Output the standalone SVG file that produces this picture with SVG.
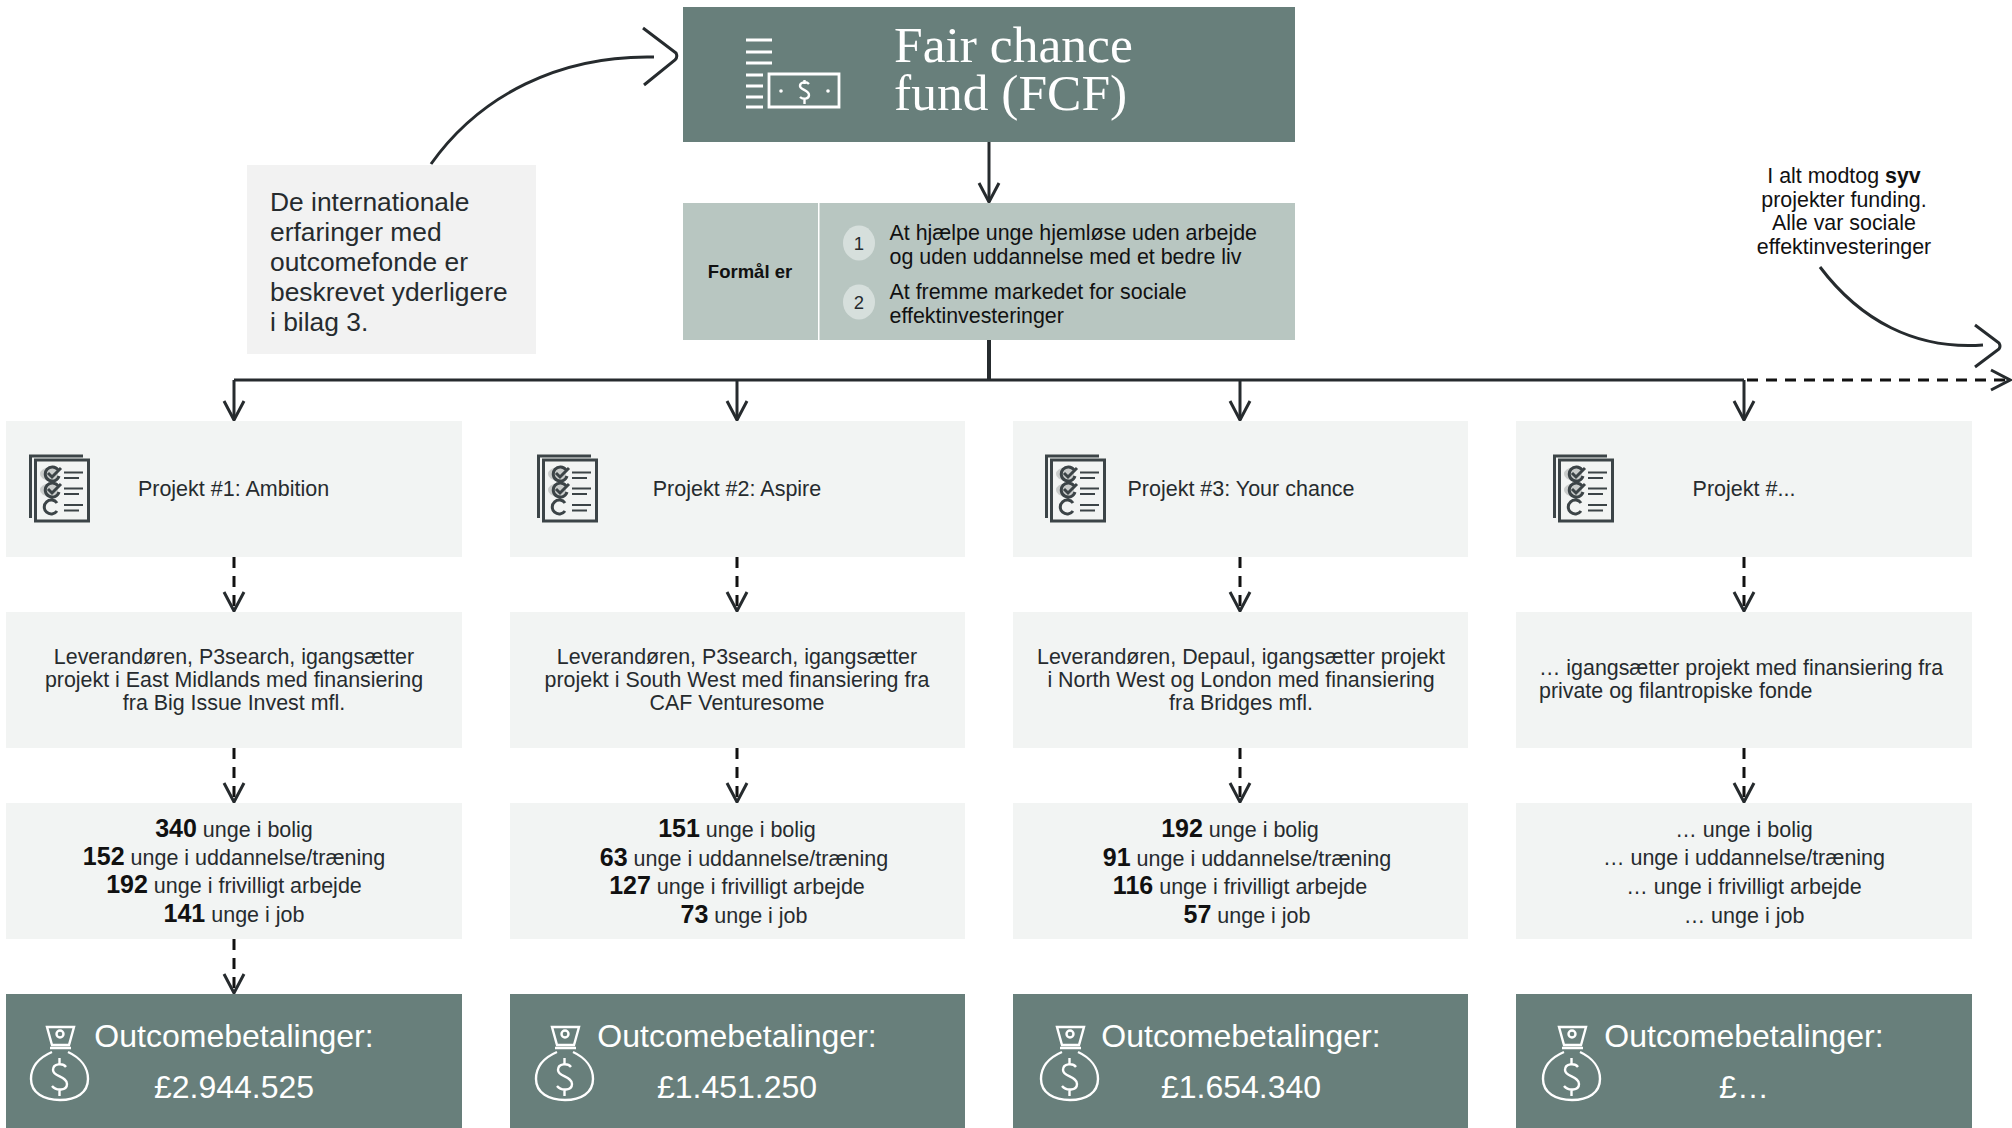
<svg xmlns="http://www.w3.org/2000/svg" xmlns:xlink="http://www.w3.org/1999/xlink" width="2012" height="1128" viewBox="0 0 2012 1128">
<style>
text{font-family:"Liberation Sans",Arial,sans-serif;fill:#262b2e}
.c{text-anchor:middle}
.b{font-weight:700;fill:#111}
.p{font-size:21.5px}
.d{font-size:21.4px}
.n{font-size:21.5px}
.n tspan{font-size:25px;font-weight:700;fill:#111}
.o{font-size:32px;fill:#fff;text-anchor:middle}
.light{fill:#f2f4f3}
.dark{fill:#687f7b}
.ln{fill:none;stroke:#262b2e;stroke-width:3}
.dash{fill:none;stroke:#111;stroke-width:3;stroke-dasharray:11 8}
.ik{fill:none;stroke:#3c4447;stroke-width:3}
.wh{fill:none;stroke:#fff;stroke-width:2.4}
.serif{font-family:"Liberation Serif",serif;fill:#fff;font-size:51.5px}
</style>
<defs>
<marker id="v" markerUnits="userSpaceOnUse" viewBox="-24 -14 26 28" refX="0" refY="0" markerWidth="26" markerHeight="28" orient="auto"><path d="M-19-10 0 0-19 10" fill="none" stroke="#262b2e" stroke-width="3"/></marker>
<g id="check">
<path class="ik" d="M83 456H30.500V518M35.500 460H88.500V521H35.500Z"/>
<ellipse cx="49" cy="474" rx="9" ry="6.500" fill="#c9cccb"/><ellipse cx="49" cy="490" rx="9" ry="6.500" fill="#c9cccb"/>
<path class="ik" d="M58 470A7 7 0 1 0 59 476M48 473 52 477 61 468M58 486A7 7 0 1 0 59 492M48 489 52 493 61 484M57 503A7 7 0 1 0 57 511"/>
<path class="ik" d="M64 472.500H83M64 478H79M64 488.500H83M64 494H79M64 505H83M64 510.500H79" style="stroke-width:2.200"/>
</g>
<g id="bag">
<path class="wh" d="M47 1027H74L69 1045H52ZM50 1048H71"/>
<circle class="wh" cx="60" cy="1034" r="3.500"/>
<path class="wh" d="M52 1052C38 1058 31 1068 31 1079C31 1093 44 1100 60 1100C76 1100 88 1093 88 1079C88 1068 81 1058 68 1052"/>
<path class="wh" d="M66 1067C63 1063 53 1063 53 1070C53 1077 67 1076 67 1084C67 1091 56 1091 52 1086M59.500 1058V1064M59.500 1090V1096"/>
</g>
</defs>

<g id="connectors">
<path class="ln" d="M989 142V202" marker-end="url(#v)"/>
<path class="ln" d="M989 340V380" style="stroke-width:4"/>
<path class="ln" d="M234 380H1744"/>
<path class="ln" d="M234 380V420" marker-end="url(#v)"/>
<path class="ln" d="M737 380V420" marker-end="url(#v)"/>
<path class="ln" d="M1240 380V420" marker-end="url(#v)"/>
<path class="ln" d="M1744 380V420" marker-end="url(#v)"/>
<path class="dash" d="M1747 380H2010" marker-end="url(#v)"/>
<path class="dash" d="M234 557V611" marker-end="url(#v)"/>
<path class="dash" d="M737 557V611" marker-end="url(#v)"/>
<path class="dash" d="M1240 557V611" marker-end="url(#v)"/>
<path class="dash" d="M1744 557V611" marker-end="url(#v)"/>
<path class="dash" d="M234 748V802" marker-end="url(#v)"/>
<path class="dash" d="M737 748V802" marker-end="url(#v)"/>
<path class="dash" d="M1240 748V802" marker-end="url(#v)"/>
<path class="dash" d="M1744 748V802" marker-end="url(#v)"/>
<path class="dash" d="M234 939V993" marker-end="url(#v)"/>
<path class="ln" d="M431 164C480 95 560 55 654 57M643 28 676 53Q678 57 675 60L644 85"/>
<path class="ln" d="M1820 267C1860 320 1915 350 1983 345M1975 325 1999 343Q2001 346 1999 349L1975 367"/>
</g>

<g id="note"><rect x="247" y="165" width="289" height="189" fill="#f2f2f2"/>
<text x="270" y="211" font-size="26.400">De internationale</text><text x="270" y="241" font-size="26.400">erfaringer med</text><text x="270" y="271" font-size="26.400">outcomefonde er</text><text x="270" y="301" font-size="26.400">beskrevet yderligere</text><text x="270" y="331" font-size="26.400">i bilag 3.</text></g>

<g id="fund"><rect x="683" y="7" width="612" height="135" class="dark"/>
<path class="wh" d="M746 40H772M746 52H772M746 63H772M746 75H763M746 86H763M746 97H763M746 107H763M769 74H839V107H769Z" style="stroke-width:2.800"/>
<circle cx="781" cy="91" r="1.800" fill="#fff"/><circle cx="828" cy="91" r="1.800" fill="#fff"/>
<path class="wh" d="M809 84C806 81 800 82 800 86C800 90 809 90 809 95C809 99 803 100 800 97M804.500 80V84M804.500 98V104"/>
<text x="894" y="62" class="serif">Fair chance</text><text x="894" y="110" class="serif">fund (FCF)</text></g>

<g id="purpose"><rect x="683" y="203" width="612" height="137" fill="#b8c6c1"/><rect x="818" y="203" width="1.500" height="137" fill="#fff"/>
<text x="750" y="278" class="c b" font-size="18.500">Formål er</text>
<ellipse cx="859" cy="243" rx="16" ry="17.500" fill="#d6dfdc"/><text x="859" y="250" class="c" font-size="18.500">1</text>
<ellipse cx="859" cy="302" rx="16" ry="17.500" fill="#d6dfdc"/><text x="859" y="309" class="c" font-size="18.500">2</text>
<text x="889.500" y="240" class="d" style="fill:#111">At hjælpe unge hjemløse uden arbejde</text><text x="889.500" y="264" class="d" style="fill:#111">og uden uddannelse med et bedre liv</text>
<text x="889.500" y="299" class="d" style="fill:#111">At fremme markedet for sociale</text><text x="889.500" y="323" class="d" style="fill:#111">effektinvesteringer</text></g>

<g id="sidenote"><text x="1844" y="183" class="c d" style="fill:#111">I alt modtog <tspan class="b">syv</tspan></text><text x="1844" y="207" class="c d" style="fill:#111">projekter funding.</text><text x="1844" y="230" class="c d" style="fill:#111">Alle var sociale</text><text x="1844" y="254" class="c d" style="fill:#111">effektinvesteringer</text></g>

<g id="project1"><rect x="6" y="421" width="456" height="136" class="light"/><use href="#check"/><text x="233.500" y="496" class="c p">Projekt #1: Ambition</text></g>
<g id="project2"><rect x="510" y="421" width="455" height="136" class="light"/><use href="#check" x="508"/><text x="737" y="496" class="c p">Projekt #2: Aspire</text></g>
<g id="project3"><rect x="1013" y="421" width="455" height="136" class="light"/><use href="#check" x="1016"/><text x="1241" y="496" class="c p">Projekt #3: Your chance</text></g>
<g id="project4"><rect x="1516" y="421" width="456" height="136" class="light"/><use href="#check" x="1524"/><text x="1744" y="496" class="c p">Projekt #...</text></g>

<g id="provider1"><rect x="6" y="612" width="456" height="136" class="light"/><text x="234" y="664" class="c d">Leverandøren, P3search, igangsætter</text><text x="234" y="687" class="c d">projekt i East Midlands med finansiering</text><text x="234" y="710" class="c d">fra Big Issue Invest mfl.</text></g>
<g id="provider2"><rect x="510" y="612" width="455" height="136" class="light"/><text x="737" y="664" class="c d">Leverandøren, P3search, igangsætter</text><text x="737" y="687" class="c d">projekt i South West med finansiering fra</text><text x="737" y="710" class="c d">CAF Venturesome</text></g>
<g id="provider3"><rect x="1013" y="612" width="455" height="136" class="light"/><text x="1241" y="664" class="c d">Leverandøren, Depaul, igangsætter projekt</text><text x="1241" y="687" class="c d">i North West og London med finansiering</text><text x="1241" y="710" class="c d">fra Bridges mfl.</text></g>
<g id="provider4"><rect x="1516" y="612" width="456" height="136" class="light"/><text x="1539" y="675" class="d">… igangsætter projekt med finansiering fra</text><text x="1539" y="698" class="d">private og filantropiske fonde</text></g>

<g id="results1"><rect x="6" y="803" width="456" height="136" class="light"/><text x="234" y="837" class="c n"><tspan>340</tspan> unge i bolig</text><text x="234" y="865" class="c n"><tspan>152</tspan> unge i uddannelse/træning</text><text x="234" y="893" class="c n"><tspan>192</tspan> unge i frivilligt arbejde</text><text x="234" y="922" class="c n"><tspan>141</tspan> unge i job</text></g>
<g id="results2"><rect x="510" y="803" width="455" height="136" class="light"/><text x="737" y="837" class="c n"><tspan>151</tspan> unge i bolig</text><text x="744" y="866" class="c n"><tspan>63</tspan> unge i uddannelse/træning</text><text x="737" y="894" class="c n"><tspan>127</tspan> unge i frivilligt arbejde</text><text x="744" y="923" class="c n"><tspan>73</tspan> unge i job</text></g>
<g id="results3"><rect x="1013" y="803" width="455" height="136" class="light"/><text x="1240" y="837" class="c n"><tspan>192</tspan> unge i bolig</text><text x="1247" y="866" class="c n"><tspan>91</tspan> unge i uddannelse/træning</text><text x="1240" y="894" class="c n"><tspan>116</tspan> unge i frivilligt arbejde</text><text x="1247" y="923" class="c n"><tspan>57</tspan> unge i job</text></g>
<g id="results4"><rect x="1516" y="803" width="456" height="136" class="light"/><text x="1744" y="837" class="c n">… unge i bolig</text><text x="1744" y="865" class="c n">… unge i uddannelse/træning</text><text x="1744" y="894" class="c n">… unge i frivilligt arbejde</text><text x="1744" y="923" class="c n">… unge i job</text></g>

<g id="pay1"><rect x="6" y="994" width="456" height="134" class="dark"/><use href="#bag"/><text x="234" y="1047" class="o">Outcomebetalinger:</text><text x="234" y="1098" class="o">£2.944.525</text></g>
<g id="pay2"><rect x="510" y="994" width="455" height="134" class="dark"/><use href="#bag" x="505"/><text x="737" y="1047" class="o">Outcomebetalinger:</text><text x="737" y="1098" class="o">£1.451.250</text></g>
<g id="pay3"><rect x="1013" y="994" width="455" height="134" class="dark"/><use href="#bag" x="1010"/><text x="1241" y="1047" class="o">Outcomebetalinger:</text><text x="1241" y="1098" class="o">£1.654.340</text></g>
<g id="pay4"><rect x="1516" y="994" width="456" height="134" class="dark"/><use href="#bag" x="1512"/><text x="1744" y="1047" class="o">Outcomebetalinger:</text><text x="1744" y="1098" class="o">£…</text></g>
</svg>
